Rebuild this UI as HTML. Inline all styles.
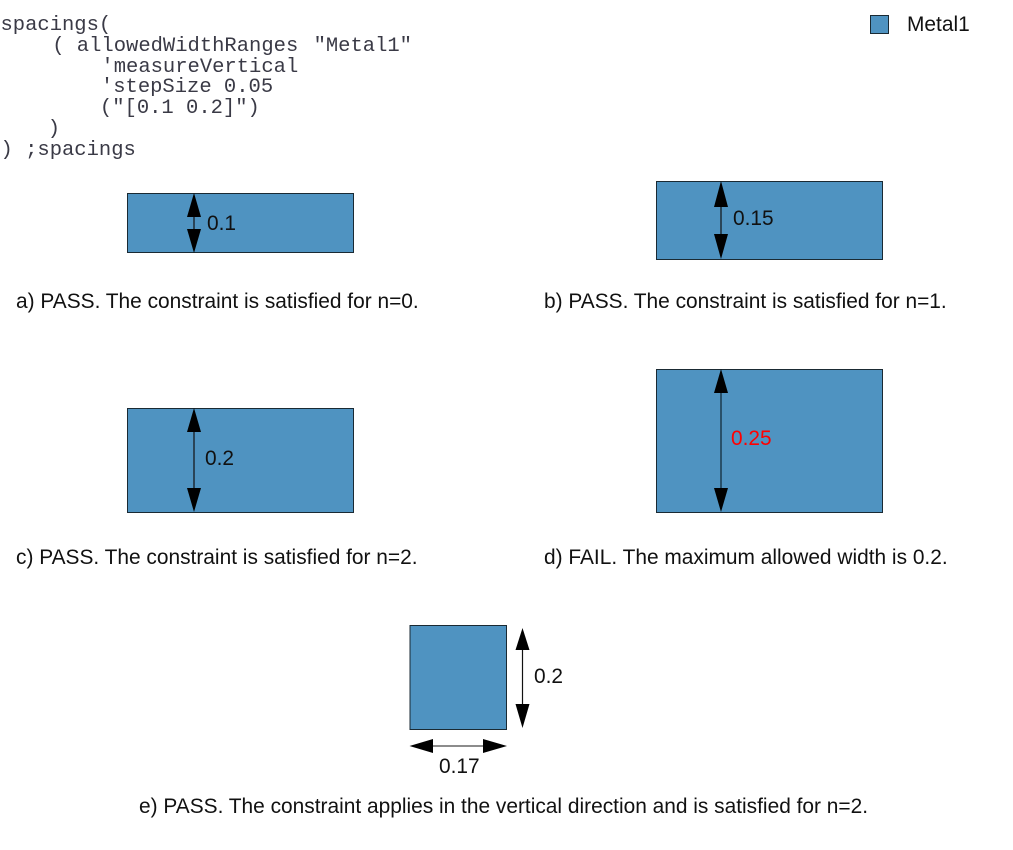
<!DOCTYPE html>
<html>
<head>
<meta charset="utf-8">
<style>
html,body{margin:0;padding:0;background:#fff;width:1013px;height:850px;overflow:hidden}
svg{display:block}
.c{font-family:"Liberation Mono",monospace;font-size:20.5px;fill:#3a3a46;white-space:pre}
.t{font-family:"Liberation Sans",sans-serif;font-size:20.9px;fill:#111}
.r{fill:#4f93c1;stroke:#1a2a33;stroke-width:1}
.l{stroke:#111;stroke-width:1.2;fill:none}
</style>
</head>
<body>
<svg width="1013" height="850" viewBox="0 0 1013 850" xmlns="http://www.w3.org/2000/svg">
<rect width="1013" height="850" fill="#fff"/>
<text class="c" xml:space="preserve" x="0.5" y="30">spacings(</text>
<text class="c" xml:space="preserve" x="3" y="51">    ( allowedWidthRanges <tspan dx="3">"Metal1"</tspan></text>
<text class="c" xml:space="preserve" x="3" y="72">        'measureVertical</text>
<text class="c" xml:space="preserve" x="2.5" y="92">        'stepSize 0.05</text>
<text class="c" xml:space="preserve" x="1.5" y="113">        ("[0.1 0.2]")</text>
<text class="c" xml:space="preserve" x="-1.5" y="134">    )</text>
<text class="c" xml:space="preserve" x="0.5" y="155">) ;spacings</text>

<rect class="r" x="870.5" y="15.5" width="18" height="18"/>
<text class="t" x="907" y="31">Metal1</text>

<rect class="r" x="127.5" y="193.5" width="226" height="59"/>
<line class="l" x1="194" y1="200" x2="194" y2="246"/>
<polygon points="194,193 201,217 187,217" fill="#000"/>
<polygon points="194,253 201,229 187,229" fill="#000"/>
<text class="t" x="207" y="230">0.1</text>
<text class="t" x="16" y="308">a) PASS. The constraint is satisfied for n=0.</text>

<rect class="r" x="656.5" y="181.5" width="226" height="78"/>
<line class="l" x1="721" y1="190" x2="721" y2="250"/>
<polygon points="721,181 728,207 714,207" fill="#000"/>
<polygon points="721,259 728,234 714,234" fill="#000"/>
<text class="t" x="733" y="225">0.15</text>
<text class="t" x="544" y="308">b) PASS. The constraint is satisfied for n=1.</text>

<rect class="r" x="127.5" y="408.5" width="226" height="104"/>
<line class="l" x1="194" y1="415" x2="194" y2="505"/>
<polygon points="194,408 201,432 187,432" fill="#000"/>
<polygon points="194,512 201,488 187,488" fill="#000"/>
<text class="t" x="205" y="465">0.2</text>
<text class="t" x="16" y="564">c) PASS. The constraint is satisfied for n=2.</text>

<rect class="r" x="656.5" y="369.5" width="226" height="143"/>
<line class="l" x1="721" y1="375" x2="721" y2="505" style="stroke:#1f3f55;stroke-width:1.6"/>
<polygon points="721,369 728,393 714,393" fill="#000"/>
<polygon points="721,512 728,488 714,488" fill="#000"/>
<text class="t" x="731" y="445" style="fill:#ff0000">0.25</text>
<text class="t" x="544" y="564">d) FAIL. The maximum allowed width is 0.2.</text>

<rect class="r" x="410" y="625.5" width="96.5" height="104"/>
<line class="l" x1="522.5" y1="632" x2="522.5" y2="722"/>
<polygon points="522.5,628 529.5,650 515.5,650" fill="#000"/>
<polygon points="522.5,728 529.5,704 515.5,704" fill="#000"/>
<text class="t" x="534" y="683">0.2</text>
<line x1="430" y1="746" x2="487" y2="746" stroke="#666" stroke-width="1.6"/>
<polygon points="409.5,746 433,739 433,753" fill="#000"/>
<polygon points="507,746 483,739 483,753" fill="#000"/>
<text class="t" x="439" y="773">0.17</text>
<text class="t" x="139" y="813">e) PASS. The constraint applies in the vertical direction and is satisfied for n=2.</text>
</svg>
</body>
</html>
